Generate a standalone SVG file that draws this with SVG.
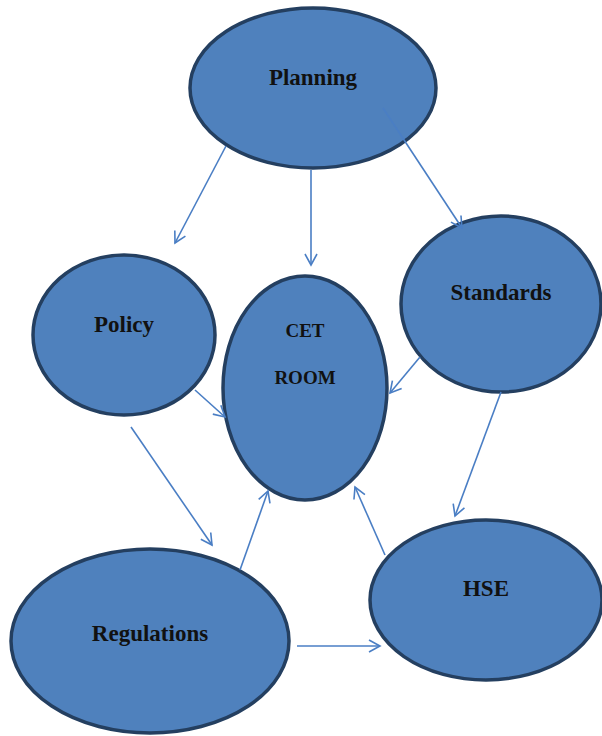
<svg xmlns="http://www.w3.org/2000/svg" width="602" height="736" viewBox="0 0 602 736">
<style>
.node{fill:#4F81BD;stroke:#243F60;stroke-width:3.5}
.lbl{font-family:"Liberation Serif",serif;font-weight:bold;font-size:23px;fill:#111;text-anchor:middle}
.sm{font-size:19px}
.c line{stroke:#4A7EC4;stroke-width:1.6;marker-end:url(#ah)}
</style>
<defs>
<marker id="ah" viewBox="0 0 14 14" refX="12" refY="7" markerWidth="14" markerHeight="14" markerUnits="userSpaceOnUse" orient="auto">
<path d="M1,1 L12,7 L1,13" fill="none" stroke="#4A7EC4" stroke-width="1.6"/>
</marker>
</defs>
<rect width="602" height="736" fill="#fff"/>
<g id="planning"><ellipse class="node" cx="313" cy="88" rx="123" ry="80"/><text class="lbl" x="313" y="85">Planning</text></g>
<g id="policy"><ellipse class="node" cx="124" cy="335" rx="91" ry="80"/><text class="lbl" x="124" y="332">Policy</text></g>
<g id="cetroom"><ellipse class="node" cx="305" cy="388" rx="82" ry="112"/><text class="lbl sm" x="305" y="337">CET</text><text class="lbl sm" x="305" y="384">ROOM</text></g>
<g id="standards"><ellipse class="node" cx="501" cy="304" rx="100" ry="88"/><text class="lbl" x="501" y="300">Standards</text></g>
<g id="hse"><ellipse class="node" cx="486" cy="600" rx="116" ry="80"/><text class="lbl" x="486" y="596">HSE</text></g>
<g id="regulations"><ellipse class="node" cx="150" cy="641" rx="139" ry="92"/><text class="lbl" x="150" y="641">Regulations</text></g>
<g class="c" id="connectors">
<line x1="226" y1="146" x2="175" y2="243"/>
<line x1="311" y1="170" x2="311" y2="265"/>
<line x1="383" y1="108" x2="462" y2="228"/>
<line x1="195" y1="390" x2="225" y2="417"/>
<line x1="420" y1="357" x2="390" y2="393"/>
<line x1="501" y1="392" x2="455" y2="516"/>
<line x1="131" y1="427" x2="212" y2="545"/>
<line x1="240" y1="570" x2="268" y2="491"/>
<line x1="385" y1="555" x2="355" y2="487"/>
<line x1="297" y1="646" x2="380" y2="646"/>
</g>
</svg>
